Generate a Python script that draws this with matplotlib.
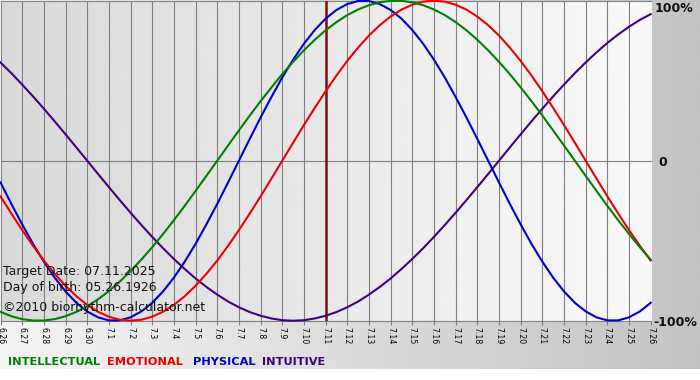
#!/usr/bin/env python3
# -*- coding: utf-8 -*-
"""Biorhythm chart: 06.26 - 07.26, target date 07.11.2025."""

import numpy as np
import matplotlib
matplotlib.use("Agg")
import matplotlib.pyplot as plt

plt.rcParams["font.family"] = ["DejaVu Sans"]

# ================= data =================
days = ["6.26", "6.27", "6.28", "6.29", "6.30",
        "7.1", "7.2", "7.3", "7.4", "7.5", "7.6", "7.7", "7.8", "7.9", "7.10",
        "7.11", "7.12", "7.13", "7.14", "7.15", "7.16", "7.17", "7.18", "7.19",
        "7.20", "7.21", "7.22", "7.23", "7.24", "7.25", "7.26"]
target_day = "7.11"
steps_per_day = 2

# values in percent, read every half day from 6.26 to 7.26
physical = [-13.6, -27.0, -39.8, -52.0, -63.1, -73.1, -81.7, -88.8, -94.2, -97.9,
            -99.8, -99.8, -97.9, -94.2, -88.8, -81.7, -73.1, -63.1, -52.0, -39.8,
            -27.0, -13.6, 0.0, 13.6, 27.0, 39.8, 52.0, 63.1, 73.1, 81.7,
            88.8, 94.2, 97.9, 99.8, 99.8, 97.9, 94.2, 88.8, 81.7, 73.1,
            63.1, 52.0, 39.8, 27.0, 13.6, 0.0, -13.6, -27.0, -39.8, -52.0,
            -63.1, -73.1, -81.7, -88.8, -94.2, -97.9, -99.8, -99.8, -97.9, -94.2,
            -88.8]
emotional = [-22.3, -33.0, -43.4, -53.2, -62.4, -70.7, -78.2, -84.7, -90.1, -94.4,
             -97.5, -99.4, -100.0, -99.4, -97.5, -94.4, -90.1, -84.7, -78.2, -70.7,
             -62.4, -53.2, -43.4, -33.0, -22.3, -11.2, 0.0, 11.2, 22.3, 33.0,
             43.4, 53.2, 62.4, 70.7, 78.2, 84.7, 90.1, 94.4, 97.5, 99.4,
             100.0, 99.4, 97.5, 94.4, 90.1, 84.7, 78.2, 70.7, 62.4, 53.2,
             43.4, 33.0, 22.3, 11.2, 0.0, -11.2, -22.3, -33.0, -43.4, -53.2,
             -62.4]
intellectual = [-94.5, -97.2, -99.0, -99.9, -99.9, -99.0, -97.2, -94.5, -91.0, -86.6,
                -81.5, -75.6, -69.0, -61.8, -54.1, -45.8, -37.2, -28.2, -18.9, -9.5,
                0.0, 9.5, 18.9, 28.2, 37.2, 45.8, 54.1, 61.8, 69.0, 75.6,
                81.5, 86.6, 91.0, 94.5, 97.2, 99.0, 99.9, 99.9, 99.0, 97.2,
                94.5, 91.0, 86.6, 81.5, 75.6, 69.0, 61.8, 54.1, 45.8, 37.2,
                28.2, 18.9, 9.5, 0.0, -9.5, -18.9, -28.2, -37.2, -45.8, -54.1,
                -61.8]
intuitive = [61.4, 54.7, 47.6, 40.2, 32.5, 24.6, 16.5, 8.3, 0.0, -8.3,
             -16.5, -24.6, -32.5, -40.2, -47.6, -54.7, -61.4, -67.7, -73.6, -78.9,
             -83.7, -88.0, -91.6, -94.6, -96.9, -98.6, -99.7, -100.0, -99.7, -98.6,
             -96.9, -94.6, -91.6, -88.0, -83.7, -78.9, -73.6, -67.7, -61.4, -54.7,
             -47.6, -40.2, -32.5, -24.6, -16.5, -8.3, 0.0, 8.3, 16.5, 24.6,
             32.5, 40.2, 47.6, 54.7, 61.4, 67.7, 73.6, 78.9, 83.7, 88.0,
             91.6]

info_lines = ["Target Date: 07.11.2025", "Day of birth: 05.26.1926",
              "\u00a92010 biorhythm-calculator.net"]
series = [("INTELLECTUAL", intellectual, "#008000"),
          ("EMOTIONAL", emotional, "#ee0000"),
          ("PHYSICAL", physical, "#0000cc"),
          ("INTUITIVE", intuitive, "#400080")]
# ========================================

W, H = 700, 380
fig = plt.figure(figsize=(W / 100, H / 100), dpi=100)
fig.patch.set_facecolor("white")

# outer background: light on the left, grey on the right
bg = fig.add_axes([0, 0, 1, 1], zorder=-10)
bg.set_xlim(0, W)
bg.set_ylim(H, 0)
bg.axis("off")
grad = np.linspace(0.955, 0.765, 256).reshape(1, -1)
bg.imshow(grad, cmap="gray", vmin=0, vmax=1, extent=(0, W, 369, 0),
          aspect="auto", interpolation="bilinear")

# plot area
left, right = 0.5, 650.7
top, bottom = 0.7, 320.7
ax = fig.add_axes([left / W, 1 - bottom / H, (right - left) / W, (bottom - top) / H])
ax.patch.set_alpha(0)
x = np.arange(len(days))
ax.set_xlim(0, len(days) - 1)
ax.set_ylim(-100, 100)
inner = np.linspace(0.85, 0.975, 256).reshape(1, -1)
ax.imshow(inner, cmap="gray", vmin=0, vmax=1, extent=(0, len(days) - 1, -100, 100),
          aspect="auto", interpolation="bilinear", zorder=0)

for s in ax.spines.values():
    s.set_visible(False)
ax.set_xticks(x)
ax.set_xticklabels(days, rotation=-90, fontsize=5.6, color="#000000")
ax.set_yticks([])
ax.tick_params(axis="x", length=3, width=0.8, color="#808080", pad=1.5)
ax.grid(axis="x", color="#808080", linewidth=0.8, zorder=1)
ax.set_axisbelow(True)
for yv in (-100, 0, 100):
    ax.axhline(yv, color="#808080", linewidth=0.8, zorder=1, clip_on=False)

ax.axvline(days.index(target_day), color="#801010", linewidth=1.8, zorder=2)

for name, vals, col in series[::-1]:
    xs = np.arange(len(vals)) / steps_per_day
    ax.plot(xs, vals, color=col, linewidth=1.5, zorder=3, clip_on=False,
            solid_joinstyle="round")

# right-hand labels
for yv, lab, dx, dy in ((100, "100%", 3.1, -5.3), (0, "0", 5.3, -1.0),
                        (-100, "-100%", 1.7, -1.0)):
    ax.annotate(lab, xy=(1, yv), xycoords=("axes fraction", "data"),
                xytext=(dx, dy), textcoords="offset points",
                ha="left", va="center", fontsize=9, fontweight="bold",
                color="#111111")

# info text
for yy, txt in zip((272, 287, 307), info_lines):
    fig.text(3 / W, 1 - yy / H, txt, ha="left", va="center", fontsize=9,
             color="#111111")

# legend
for xx, (name, vals, col) in zip((8, 107, 193, 262), series):
    fig.text(xx / W, 1 - 362 / H, name, ha="left", va="center", fontsize=8.2,
             fontweight="bold", color=col)

fig.savefig("out.png", dpi=100, facecolor=fig.get_facecolor())
